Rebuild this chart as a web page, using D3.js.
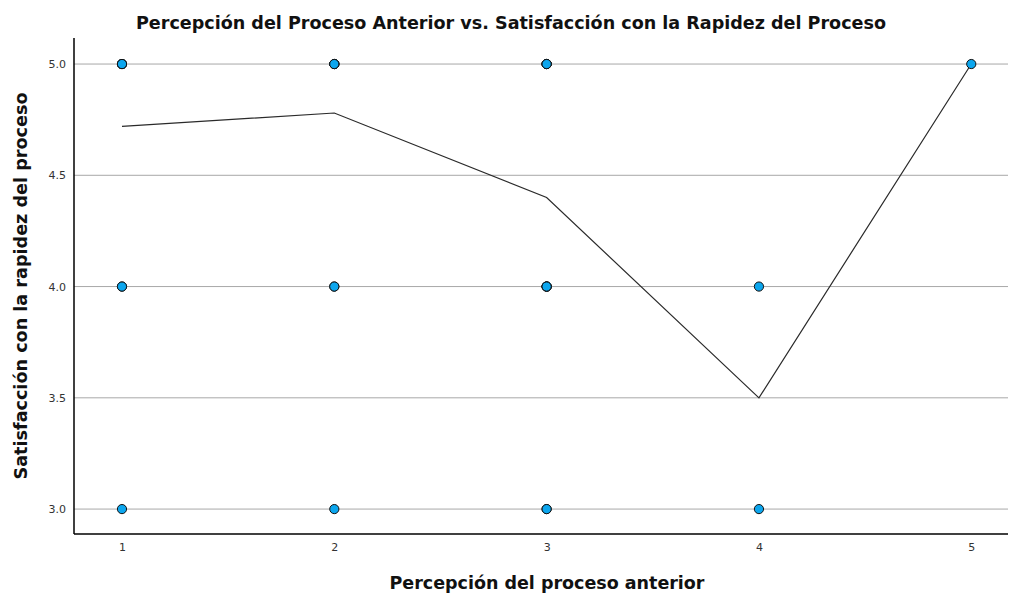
<!DOCTYPE html>
<html><head><meta charset="utf-8">
<script src="https://cdn.jsdelivr.net/npm/d3@7"></script>
<style>body{margin:0;background:#fff}svg{display:block}</style>
</head><body>
<svg id="chart" width="1009" height="593"></svg>
<script>
const title = "Percepción del Proceso Anterior vs. Satisfacción con la Rapidez del Proceso";
const xTitle = "Percepción del proceso anterior";
const yTitle = "Satisfacción con la rapidez del proceso";
const xTicks = [1, 2, 3, 4, 5];
const yTicks = [3.0, 3.5, 4.0, 4.5, 5.0];
// observed (x, y) pairs and how many cases overlap at each
const pointX = [1, 1, 1, 2, 2, 2, 3, 3, 3, 4, 4, 5];
const pointY = [5, 4, 3, 5, 4, 3, 5, 4, 3, 4, 3, 5];
const pointN = [4, 2, 1, 4, 2, 1, 4, 4, 2, 1, 1, 1];
// mean line
const meanX = [1, 2, 3, 4, 5];
const meanY = [4.72, 4.78, 4.40, 3.50, 5.00];

const svg = d3.select("#chart");
const L = 74, R = 1008, T = 38, B = 534;
const x = d3.scaleLinear().domain([0.774, 5.173]).range([L, R]);
const y = d3.scaleLinear().domain([2.888, 5.117]).range([B, T]);
const font = "'DejaVu Sans Condensed','DejaVu Sans',sans-serif";
const tickFont = "'DejaVu Sans',sans-serif";

// grid
svg.append("g").selectAll("line").data(yTicks).join("line")
  .attr("x1", L).attr("x2", R)
  .attr("y1", d => y(d)).attr("y2", d => y(d))
  .attr("stroke", "#a8a8a8").attr("stroke-width", 1);

// axes
const yAxis = d3.axisLeft(y).tickValues(yTicks).tickFormat(d3.format(".1f")).tickSize(0).tickPadding(8);
const gy = svg.append("g").attr("transform", `translate(${L},0)`).call(yAxis);
const xAxis = d3.axisBottom(x).tickValues(xTicks).tickFormat(d3.format("d")).tickSize(0).tickPadding(9);
const gx = svg.append("g").attr("transform", `translate(0,${B})`).call(xAxis);
[gx, gy].forEach(g => {
  g.select(".domain").remove();
  g.selectAll("text").attr("font-family", tickFont).attr("font-size", 11).attr("fill", "#333");
});
svg.append("line").attr("x1", L).attr("x2", L).attr("y1", T).attr("y2", B)
  .attr("stroke", "#000").attr("stroke-width", 1.5);
svg.append("line").attr("x1", L).attr("x2", R).attr("y1", B).attr("y2", B)
  .attr("stroke", "#000").attr("stroke-width", 1.5);

// mean line
const line = d3.line().x((d, i) => x(meanX[i])).y(d => y(d));
svg.append("path").datum(meanY).attr("d", line)
  .attr("fill", "none").attr("stroke", "#2a2a2a").attr("stroke-width", 1.2);

// points (overlapping cases drawn on top of each other)
const pts = [];
pointX.forEach((px, i) => { for (let k = 0; k < pointN[i]; k++) pts.push([px, pointY[i]]); });
svg.append("g").selectAll("circle").data(pts).join("circle")
  .attr("cx", d => x(d[0])).attr("cy", d => y(d[1])).attr("r", 4.6)
  .attr("fill", "#0ca6ee").attr("stroke", "#111").attr("stroke-width", 1);

// titles
svg.append("text").attr("x", 511).attr("y", 29).attr("text-anchor", "middle")
  .attr("font-family", font).attr("font-weight", "bold").attr("font-size", 18).attr("fill", "#111")
  .attr("textLength", 750).attr("lengthAdjust", "spacingAndGlyphs").text(title);
svg.append("text").attr("x", 547).attr("y", 589).attr("text-anchor", "middle")
  .attr("font-family", font).attr("font-weight", "bold").attr("font-size", 18).attr("fill", "#111")
  .attr("textLength", 315).attr("lengthAdjust", "spacingAndGlyphs").text(xTitle);
svg.append("text").attr("transform", "translate(27,286) rotate(-90)").attr("text-anchor", "middle")
  .attr("font-family", font).attr("font-weight", "bold").attr("font-size", 18).attr("fill", "#111")
  .attr("textLength", 387).attr("lengthAdjust", "spacingAndGlyphs").text(yTitle);
</script>
</body></html>
